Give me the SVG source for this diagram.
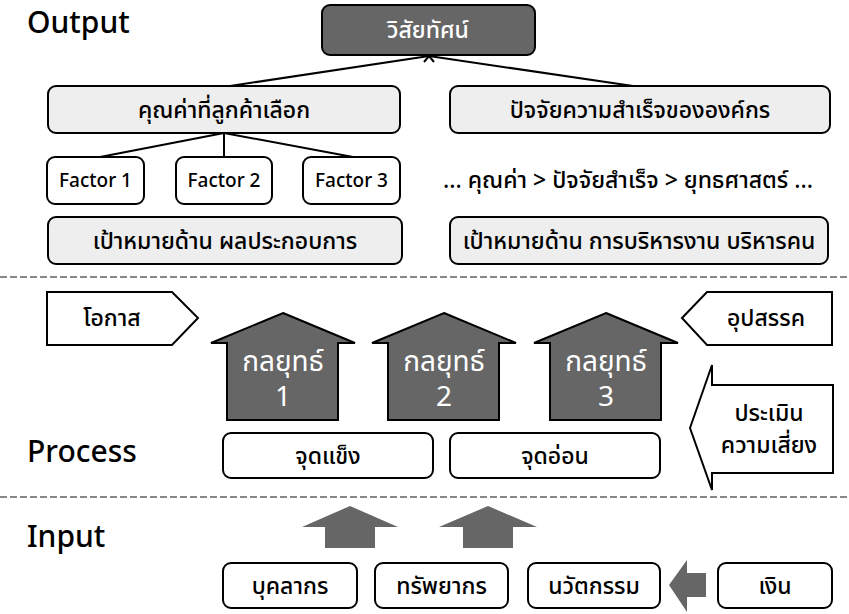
<svg xmlns="http://www.w3.org/2000/svg" width="849" height="614" viewBox="0 0 849 614">
<defs>
<style>
text{font-family:"Noto Sans","Noto Sans Thai","Tahoma","DejaVu Sans",sans-serif;text-anchor:middle;fill:#000}
.sec{font-size:30px;font-weight:500;text-anchor:start}
.t{font-size:23px;font-weight:500}
.tw{font-size:23px;font-weight:500;fill:#fff}
.big{font-size:28px;font-weight:normal;fill:#fff}
.f{font-size:19px;font-weight:500}
.box{fill:#fff;stroke:#000;stroke-width:2}
.gbox{fill:#eeeeee;stroke:#000;stroke-width:2}
.dbox{fill:#666;stroke:#000;stroke-width:2}
.dash{stroke:#888;stroke-width:2;stroke-dasharray:7 3;fill:none}
.ln{stroke:#000;stroke-width:2;fill:none}
.solid{fill:#666;stroke:none}
</style>
<marker id="arr" viewBox="0 0 12 10" refX="6" refY="1" markerWidth="12" markerHeight="10" markerUnits="userSpaceOnUse" orient="0">
<path d="M1,7 L6,1 L11,7" fill="none" stroke="#000" stroke-width="2"/>
</marker>
</defs>
<rect width="849" height="614" fill="#fff"/>

<g id="labels">
<text class="sec" x="27" y="33">Output</text>
<text class="sec" x="27" y="462">Process</text>
<text class="sec" x="27" y="547">Input</text>
</g>

<g id="separators">
<line class="dash" x1="0" y1="277" x2="849" y2="277"/>
<line class="dash" x1="0" y1="497" x2="849" y2="497"/>
</g>

<g id="connectors">
<line class="ln" x1="230" y1="86" x2="429" y2="56"/>
<line class="ln" x1="633" y1="86" x2="429" y2="56" marker-end="url(#arr)"/>
<line class="ln" x1="224" y1="133" x2="100" y2="157"/>
<line class="ln" x1="224" y1="133" x2="224" y2="157"/>
<line class="ln" x1="224" y1="133" x2="353" y2="157"/>
</g>

<g id="vision">
<rect class="dbox" x="322" y="5" width="213" height="50" rx="8"/>
<text class="tw" x="428" y="38">วิสัยทัศน์</text>
</g>
<g id="value">
<rect class="gbox" x="48" y="86" width="352" height="47" rx="8"/>
<text class="t" x="224" y="118">คุณค่าที่ลูกค้าเลือก</text>
</g>
<g id="success">
<rect class="gbox" x="450" y="86" width="380" height="47" rx="8"/>
<text class="t" x="640" y="118">ปัจจัยความสำเร็จขององค์กร</text>
</g>
<g id="factor1">
<rect class="box" x="47" y="157" width="97" height="47" rx="8"/>
<text class="f" x="95.5" y="187">Factor 1</text>
</g>
<g id="factor2">
<rect class="box" x="176" y="157" width="96" height="47" rx="8"/>
<text class="f" x="224" y="187">Factor 2</text>
</g>
<g id="factor3">
<rect class="box" x="303" y="157" width="97" height="47" rx="8"/>
<text class="f" x="351.5" y="187">Factor 3</text>
</g>
<g id="chain">
<text class="t" x="628" y="188">... คุณค่า &gt; ปัจจัยสำเร็จ &gt; ยุทธศาสตร์ ...</text>
</g>
<g id="goal1">
<rect class="gbox" x="48" y="217" width="354" height="47" rx="8"/>
<text class="t" x="225" y="249">เป้าหมายด้าน ผลประกอบการ</text>
</g>
<g id="goal2">
<rect class="gbox" x="450" y="217" width="378" height="47" rx="8"/>
<text class="t" x="639" y="249">เป้าหมายด้าน การบริหารงาน บริหารคน</text>
</g>

<g id="opportunity">
<polygon class="box" points="47,292 172,292 198,318 172,345 47,345"/>
<text class="t" x="112" y="326">โอกาส</text>
</g>
<g id="threat">
<polygon class="box" points="682,318 707,292 832,292 832,345 707,345"/>
<text class="t" x="766" y="326">อุปสรรค</text>
</g>
<g id="strategy1">
<polygon class="dbox" points="283,313 355,343 338,343 338,420 227,420 227,343 211,343"/>
<text class="big" x="283" y="371">กลยุทธ์</text>
<text class="big" x="283" y="406">1</text>
</g>
<g id="strategy2">
<polygon class="dbox" points="444,313 516,343 499,343 499,420 388,420 388,343 372,343"/>
<text class="big" x="444" y="371">กลยุทธ์</text>
<text class="big" x="444" y="406">2</text>
</g>
<g id="strategy3">
<polygon class="dbox" points="606,313 678,343 661,343 661,420 550,420 550,343 534,343"/>
<text class="big" x="606" y="371">กลยุทธ์</text>
<text class="big" x="606" y="406">3</text>
</g>
<g id="risk">
<polygon class="box" points="690,428 712,365 712,385 833,385 833,473 712,473 712,490"/>
<text class="t" x="769" y="421">ประเมิน</text>
<text class="t" x="769" y="453">ความเสี่ยง</text>
</g>
<g id="strength">
<rect class="box" x="223" y="433" width="210" height="45" rx="8"/>
<text class="t" x="328" y="464">จุดแข็ง</text>
</g>
<g id="weakness">
<rect class="box" x="450" y="433" width="210" height="45" rx="8"/>
<text class="t" x="555" y="464">จุดอ่อน</text>
</g>

<g id="flows">
<polygon class="solid" points="350,506 398,527 375,527 375,548 325,548 325,527 302,527"/>
<polygon class="solid" points="488,506 537,527 513,527 513,548 463,548 463,527 439,527"/>
<polygon class="solid" points="669,585 687,560 687,573 706,573 706,597 687,597 687,612"/>
</g>

<g id="personnel">
<rect class="box" x="223" y="563" width="134" height="45" rx="8"/>
<text class="t" x="290" y="594">บุคลากร</text>
</g>
<g id="resources">
<rect class="box" x="375" y="563" width="133" height="45" rx="8"/>
<text class="t" x="441.5" y="594">ทรัพยากร</text>
</g>
<g id="innovation">
<rect class="box" x="528" y="563" width="132" height="45" rx="8"/>
<text class="t" x="594" y="594">นวัตกรรม</text>
</g>
<g id="money">
<rect class="box" x="718" y="563" width="114" height="45" rx="8"/>
<text class="t" x="775" y="594">เงิน</text>
</g>
</svg>
